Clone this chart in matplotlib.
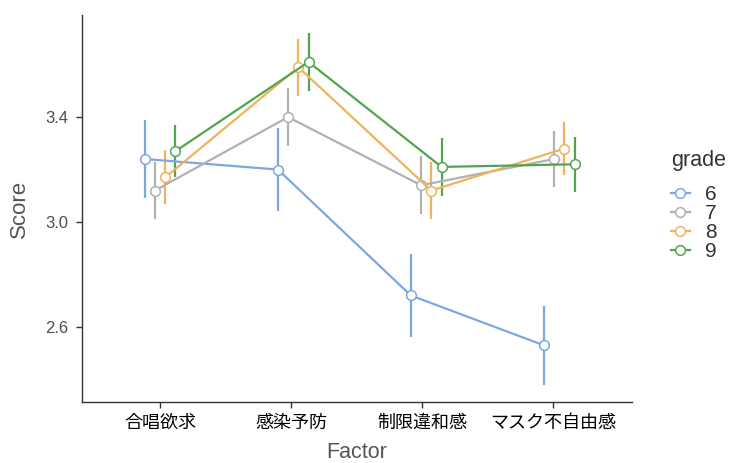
import numpy as np
import matplotlib
matplotlib.use("Agg")
import matplotlib.pyplot as plt
from matplotlib.lines import Line2D

plt.rcParams['font.family'] = ['Liberation Sans', 'Noto Sans CJK JP']

factors = ['合唱欲求', '感染予防', '制限違和感', 'マスク不自由感']
grades = ['6', '7', '8', '9']

# mean score per grade, one value per factor
score_g6 = [3.24, 3.20, 2.72, 2.53]
score_g7 = [3.12, 3.40, 3.14, 3.24]
score_g8 = [3.17, 3.59, 3.12, 3.28]
score_g9 = [3.27, 3.61, 3.21, 3.22]

# half-width of error bars
err_g6 = [0.15, 0.157, 0.158, 0.15]
err_g7 = [0.108, 0.11, 0.111, 0.105]
err_g8 = [0.103, 0.108, 0.109, 0.102]
err_g9 = [0.10, 0.111, 0.112, 0.105]

colors = ['#7ea7e2', '#b1b1b1', '#f1b25e', '#52a550']

scores = [score_g6, score_g7, score_g8, score_g9]
errs = [err_g6, err_g7, err_g8, err_g9]

fig = plt.figure(figsize=(7.32, 4.63), dpi=100)
ax = fig.add_axes([81.5 / 732, 1 - 402 / 463, (632 - 81.5) / 732, (402 - 15) / 463])

x = np.arange(1, len(factors) + 1)
step = 0.078
for i, (g, s, e, c) in enumerate(zip(grades, scores, errs, colors)):
    xs = x + (i - 1.5) * step + np.array([0.0, 0.015, 0.03, 0.045])
    ax.errorbar(xs, s, yerr=e, fmt='none', ecolor=c, elinewidth=1.6, capsize=0, zorder=2)
    ax.plot(xs, s, color=c, lw=1.6, marker='o', ms=7, mfc='white', mec=c, mew=1.1,
            zorder=3, label=g)

ax.set_xlim(0.4, 4.6)
ax.set_ylim(2.314, 3.789)
ax.set_xticks(x)
ax.set_xticklabels(factors, fontsize=13, color='black')
ax.set_yticks([2.6, 3.0, 3.4])
ax.set_yticklabels(['2.6', '3.0', '3.4'], fontsize=12, color='#4d4d4d')
ax.tick_params(axis='both', length=4.5, width=1, color='#333333')
ax.tick_params(axis='x', pad=5)
ax.tick_params(axis='y', pad=5)

for side in ['top', 'right']:
    ax.spines[side].set_visible(False)
for side in ['left', 'bottom']:
    ax.spines[side].set_color('#333333')
    ax.spines[side].set_linewidth(1.0)

ax.set_xlabel('Factor', fontsize=15.5, color='#555555', labelpad=7)
ax.set_ylabel('Score', fontsize=16, color='#555555', labelpad=11)

handles = [Line2D([0], [0], color=c, lw=1.6, marker='o', ms=7, mfc='white', mec=c, mew=1.1)
           for c in colors]
leg = fig.legend(handles, grades, title='grade', loc='upper left',
                 bbox_to_anchor=(671 / 732, 1 - 150 / 463), frameon=False,
                 fontsize=15, title_fontsize=15.5, handlelength=0.9, handletextpad=0.75,
                 labelspacing=0.0, alignment='left', borderpad=0, borderaxespad=0)
leg._legend_box.sep = 10
for t in leg.get_texts():
    t.set_color('#333333')
leg.get_title().set_color('#333333')

fig.savefig('out.png', dpi=100, facecolor='white')
